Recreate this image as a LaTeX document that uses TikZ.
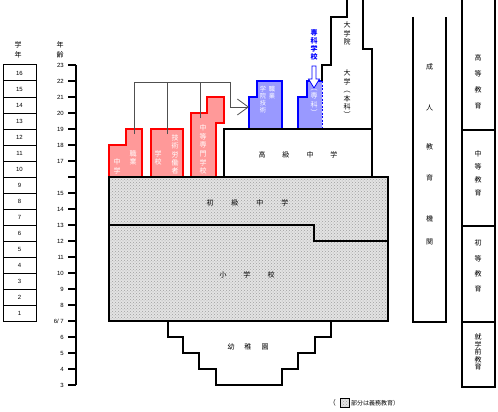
\documentclass[tikz,border=0pt]{standalone}
\usepackage{fontspec}
\setmainfont{Liberation Sans}
\newfontfamily\jpfont{Noto Sans CJK JP}
\usetikzlibrary{arrows.meta, patterns, positioning}
\definecolor{vocRed}{RGB}{255,153,153}
\definecolor{vocBlue}{RGB}{153,153,255}
\definecolor{linkGray}{RGB}{80,80,80}
\tikzset{
    % Boxes
    grade/.style={draw, line width=1pt, minimum width=33pt, minimum height=16pt,
                  inner sep=0pt, font=\fontsize{6}{7}\selectfont},
    wall/.style={line width=1.2pt},
    redBox/.style={draw=red, fill=vocRed, line width=1.2pt},
    blueBox/.style={draw=blue, fill=vocBlue, line width=1.2pt},
    duty/.style={draw, line width=1.2pt, preaction={fill=gray!22},
                 pattern=crosshatch dots, pattern color=gray!75},
    % Labels
    jp/.style={font=\jpfont\fontsize{7}{#1}\selectfont, align=center, inner sep=0pt},
    jp/.default=8.5,
    wjp/.style={jp=#1, text=white},
    wjp/.default=8.5,
    tag/.style={jp, text=blue, font=\jpfont\bfseries\fontsize{7}{8}\selectfont},
    num/.style={font=\fontsize{6}{7}\selectfont, inner sep=0pt},
    link/.style={draw=linkGray, line width=0.8pt}
}

\begin{document}
\begin{tikzpicture}[x=1pt, y=-1pt]
\useasboundingbox (0,0) rectangle (498,412);

% grades and ages
\node[jp=10] (gakunen) at (18,50) {学\\年};
\node[jp=10] (nenrei) at (60,50) {年\\齢};
\foreach \g in {1,...,16}
    \node[grade] (g\g) at (19.5,{73+16*(16-\g)}) {\g};
\draw[wall] (76,65) -- (76,385);
\foreach \a in {3,...,23}
    \draw[wall] (68,{65+16*(23-\a)}) -- (76,{65+16*(23-\a)});
\foreach \a in {3,4,5,6,8,9,10,11,12,13,14,15,17,18,19,20,21,22,23}
    \node[num, anchor=east] (a\a) at (64,{65+16*(23-\a)}) {\a};
\node[num, anchor=east] (a7) at (64,321) {6/ 7};

% vocational boxes
\draw[redBox] (109,177) |- (126,145) |- (142,129) -- (142,177) -- cycle;
\draw[redBox] (151,129) rectangle (183,177);
\draw[redBox] (191,177) |- (207,113) |- (224,97) |- (216,123) -- (216,177) -- cycle;
\draw[blueBox] (249,129) |- (257,97) |- (282,81) -- (282,129) -- cycle;
\fill[vocBlue] (298,129) |- (307,97) |- (322,81) -- (322,129) -- cycle;
\draw[blueBox, fill=none] (298,129) |- (307,97) |- (322,81);
\draw[blueBox, fill=none, line width=1pt, dash pattern=on 2pt off 1.5pt] (322,81) -- (322,129);
\draw[draw=blue, fill=white, line width=0.8pt] (312,66) -- (316,66) -- (316,79) -- (319.5,79)
    -- (314,88) -- (308.5,79) -- (312,79) -- cycle;

% compulsory block and kindergarten
\draw[duty] (109,177) rectangle (388,321);
\draw[wall] (109,225) -- (314,225) -- (314,241) -- (388,241);
\draw[wall] (168,321) |- (183,337) |- (199,353) |- (216,369) |- (282,385)
    |- (298,369) |- (315,353) |- (331,337) -- (331,321);

% senior middle and university
\draw[wall] (224,177) |- (372,129);
\draw[wall] (372,177) -- (372,49) -- (363,49) -- (363,0);
\draw[wall] (322,81) -- (322,65) -- (331,65) -- (331,17) -- (347,17) -- (347,0);

% links
\coordinate (hub) at (230,82);
\coordinate (vjs) at (134,134);
\coordinate (tws) at (167,134);
\coordinate (sss) at (200,118);
\coordinate (hvi) at (249,107);
\draw[link] (vjs) |- (hub);
\draw[link] (tws) -- (tws |- hub);
\draw[link] (sss) -- (sss |- hub);
\draw[link, -{Straight Barb[length=11pt, width=16pt]}] (hub) |- (hvi);

% school labels
\node[wjp=8.5] (vjs-a) at (133,158) {職\\業};
\node[wjp=8.5] (vjs-b) at (117,166.5) {中\\学};
\node[wjp=8.3] (tws-a) at (175,154.5) {技\\術\\労\\働\\者};
\node[wjp=8.3] (tws-b) at (158,158) {学\\校};
\node[wjp=8.6] (sss-a) at (203,149.5) {中\\等\\専\\門\\学\\校};
\node[wjp=7.2, font=\jpfont\fontsize{6.3}{7.2}\selectfont] (hvi-a) at (272,93) {職\\業};
\node[wjp=7.2, font=\jpfont\fontsize{6.3}{7.2}\selectfont] (hvi-b) at (263,99.5) {学\\院\\技\\術};
\node[wjp=8.3] (senka-a) at (314,102.5) {︵\\専\\科\\︶};
\node[tag] (senka) at (314,45) {専\\科\\学\\校};
\node[jp=8.5] (grad) at (347,33.5) {大\\学\\院};
\node[jp=8.4] (univ) at (347,94) {大\\学\\︵\\本\\科\\︶};
\node[jp] (senior) at (298,155) {高\hspace{17pt}級\hspace{17pt}中\hspace{17pt}学};
\node[jp] (junior) at (247.5,203) {初\hspace{18pt}級\hspace{18pt}中\hspace{18pt}学};
\node[jp] (primary) at (247,275) {小\hspace{17pt}学\hspace{17pt}校};
\node[jp] (kinder) at (248,347) {幼\hspace{10pt}稚\hspace{10pt}園};

% right columns
\draw[wall] (413,17) -- (413,322) -- (446,322) -- (446,17);
\draw[wall] (462,0) -- (462,387) -- (495,387) -- (495,0);
\draw[wall] (462,130) -- (495,130);
\draw[wall] (462,226) -- (495,226);
\draw[wall] (462,322) -- (495,322);
\node[jp=8] (adult) at (429.5,154.5) {成\\[33pt]人\\[31pt]教\\[23pt]育\\[33pt]機\\[15pt]関};
\node[jp=16] (higher) at (478,82) {高\\等\\教\\育};
\node[jp=13] (second) at (478,173.5) {中\\等\\教\\育};
\node[jp=15.3] (elem) at (478,266) {初\\等\\教\\育};
\node[jp=7.5] (pre) at (478,352) {就\\学\\前\\教\\育};

% legend
\node[jp, anchor=east] (lp) at (336,403) {（};
\node[duty, line width=0.5pt, minimum width=9pt, minimum height=9pt, inner sep=0pt] (swatch) at (344.5,403) {};
\node[jp, anchor=west, font=\jpfont\fontsize{6}{7}\selectfont] (note) at (351,403) {部分は義務教育）};

\end{tikzpicture}
\end{document}
